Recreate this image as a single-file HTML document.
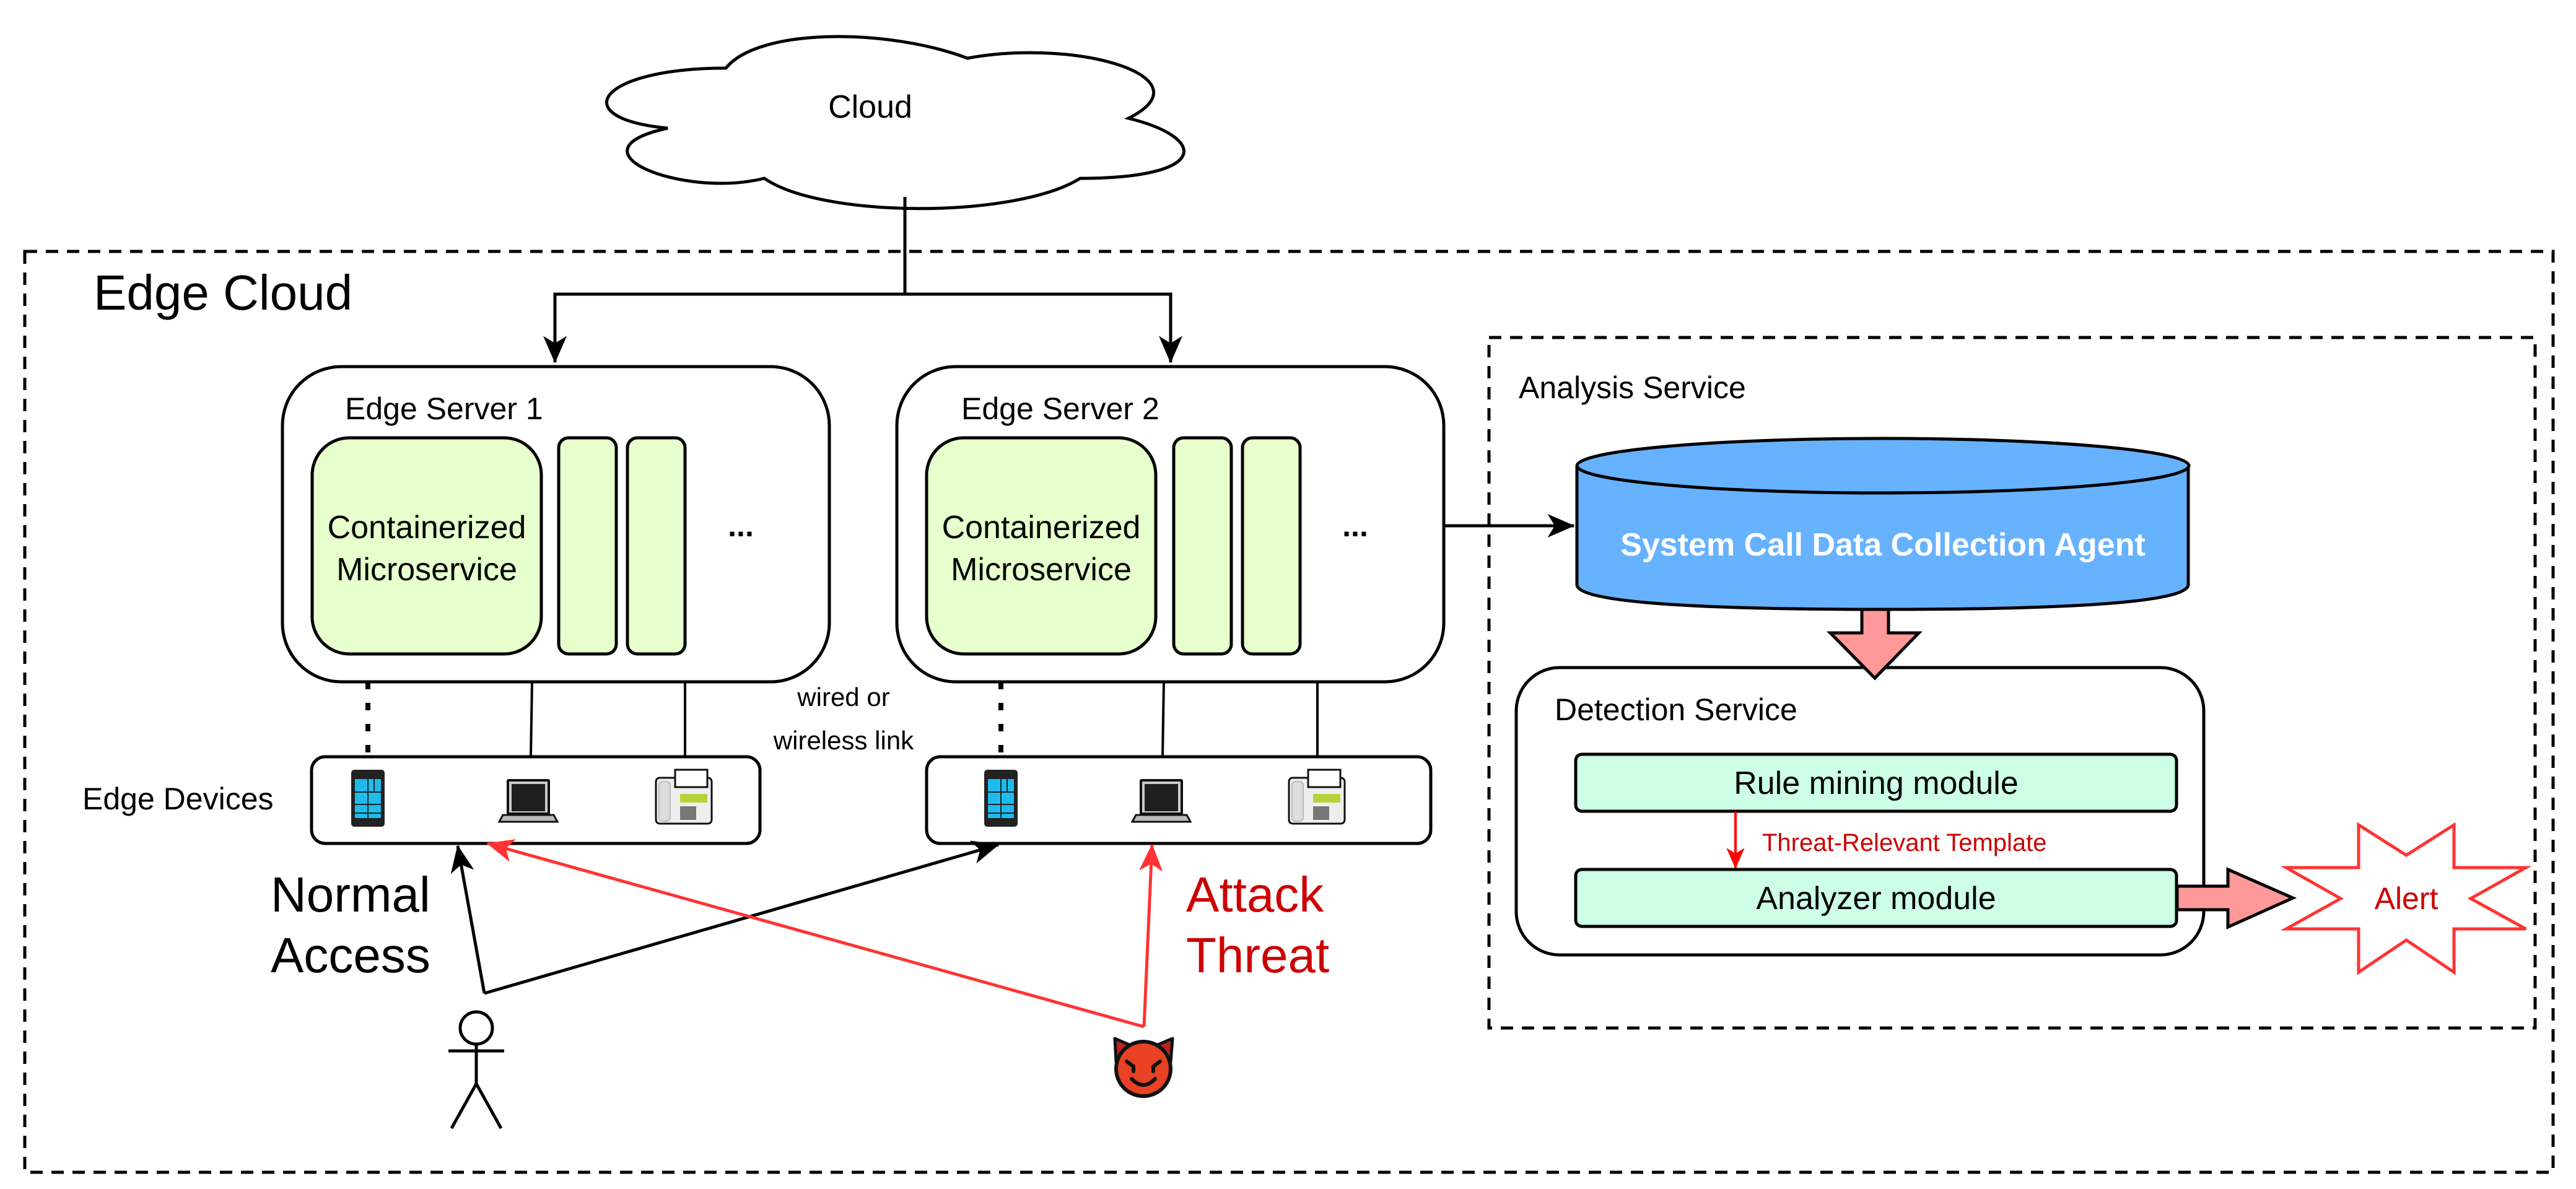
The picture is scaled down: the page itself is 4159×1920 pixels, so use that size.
<!DOCTYPE html>
<html><head><meta charset="utf-8"><style>
html,body{margin:0;padding:0;background:#fff}
svg{display:block}
text{font-family:"Liberation Sans",Arial,sans-serif}
</style></head><body>
<svg width="4159" height="1920" viewBox="0 0 4159 1920" xmlns="http://www.w3.org/2000/svg">
<defs>
<marker id="abig" viewBox="0 0 30 30" refX="29" refY="15" markerWidth="44" markerHeight="44" markerUnits="userSpaceOnUse" orient="auto"><path d="M0,2 L30,15 L0,28 L8,15Z" fill="#000"/></marker>
<marker id="ar" viewBox="0 0 30 30" refX="29" refY="15" markerWidth="44" markerHeight="44" markerUnits="userSpaceOnUse" orient="auto"><path d="M0,2 L30,15 L0,28 L8,15Z" fill="#f33"/></marker>
<marker id="ar2" viewBox="0 0 30 30" refX="29" refY="15" markerWidth="34" markerHeight="34" markerUnits="userSpaceOnUse" orient="auto"><path d="M0,2 L30,15 L0,28 L8,15Z" fill="#f00"/></marker>
</defs>

<rect x="40" y="406" width="4082" height="1487" fill="none" stroke="#000" stroke-width="5" stroke-dasharray="20 14"/>
<text x="151" y="500" font-size="80">Edge Cloud</text>

<path d="M1172,110 C964,110 912,191 1078,207 C912,243 1099,321 1234,288 C1328,353 1640,353 1744,288 C1952,288 1952,223 1822,191 C1952,126 1744,61 1562,94 C1432,45 1224,45 1172,110Z" fill="#fff" stroke="#000" stroke-width="5"/>
<text x="1405" y="190" font-size="52" text-anchor="middle">Cloud</text>

<path d="M1461,318 V475 H896 V585" fill="none" stroke="#000" stroke-width="5" marker-end="url(#abig)"/>
<path d="M1461,475 H1890 V585" fill="none" stroke="#000" stroke-width="5" marker-end="url(#abig)"/>

<rect x="456" y="592" width="883" height="509" rx="95" fill="#fff" stroke="#000" stroke-width="5"/>
<text x="557" y="677" font-size="50">Edge Server 1</text>
<rect x="504" y="707" width="370" height="349" rx="60" fill="#e6ffcc" stroke="#000" stroke-width="5"/>
<text x="689" y="869" font-size="52" text-anchor="middle">Containerized</text>
<text x="689" y="937" font-size="52" text-anchor="middle">Microservice</text>
<rect x="902" y="707" width="93" height="349" rx="16" fill="#e6ffcc" stroke="#000" stroke-width="5"/>
<rect x="1013" y="707" width="93" height="349" rx="16" fill="#e6ffcc" stroke="#000" stroke-width="5"/>
<text x="1196" y="866" font-size="50" font-weight="bold" text-anchor="middle">...</text>

<rect x="1448" y="592" width="883" height="509" rx="95" fill="#fff" stroke="#000" stroke-width="5"/>
<text x="1552" y="677" font-size="50">Edge Server 2</text>
<rect x="1496" y="707" width="370" height="349" rx="60" fill="#e6ffcc" stroke="#000" stroke-width="5"/>
<text x="1681" y="869" font-size="52" text-anchor="middle">Containerized</text>
<text x="1681" y="937" font-size="52" text-anchor="middle">Microservice</text>
<rect x="1895" y="707" width="93" height="349" rx="16" fill="#e6ffcc" stroke="#000" stroke-width="5"/>
<rect x="2006" y="707" width="93" height="349" rx="16" fill="#e6ffcc" stroke="#000" stroke-width="5"/>
<text x="2188" y="866" font-size="50" font-weight="bold" text-anchor="middle">...</text>

<line x1="2331" y1="849" x2="2541" y2="849" stroke="#000" stroke-width="5" marker-end="url(#abig)"/>

<line x1="594" y1="1101" x2="594" y2="1222" stroke="#000" stroke-width="8" stroke-dasharray="12 22"/>
<line x1="859" y1="1101" x2="857" y2="1222" stroke="#000" stroke-width="4"/>
<line x1="1106" y1="1101" x2="1106" y2="1222" stroke="#000" stroke-width="4"/>
<line x1="1616" y1="1101" x2="1616" y2="1222" stroke="#000" stroke-width="8" stroke-dasharray="12 22"/>
<line x1="1879" y1="1101" x2="1877" y2="1222" stroke="#000" stroke-width="4"/>
<line x1="2127" y1="1101" x2="2127" y2="1222" stroke="#000" stroke-width="4"/>
<text x="1362" y="1140" font-size="42" text-anchor="middle">wired or</text>
<text x="1362" y="1210" font-size="42" text-anchor="middle">wireless link</text>

<text x="133" y="1307" font-size="50">Edge Devices</text>
<rect x="503" y="1222" width="724" height="140" rx="22" fill="#fff" stroke="#000" stroke-width="5"/>
<rect x="1496" y="1222" width="814" height="140" rx="22" fill="#fff" stroke="#000" stroke-width="5"/>

<g id="dev1">
<rect x="567" y="1243" width="54" height="92" rx="5" fill="#222"/>
<rect x="573" y="1258" width="42" height="63" fill="#1ebbee"/>
<path d="M573,1279 H615 M573,1299 H615 M594,1258 V1321 M604,1258 V1279 M573,1313 H615" stroke="#222" stroke-width="2"/>
<rect x="818" y="1258" width="70" height="58" rx="3" fill="#111"/>
<rect x="822" y="1262" width="62" height="50" fill="#ccc"/>
<rect x="826" y="1266" width="54" height="44" fill="#1e1e1e"/>
<path d="M812,1316 H894 L900,1327 H806Z" fill="#bbb" stroke="#111" stroke-width="3"/>
<rect x="1059" y="1256" width="90" height="74" rx="6" fill="#eee" stroke="#111" stroke-width="3"/>
<rect x="1064" y="1262" width="18" height="64" rx="6" fill="#ddd" stroke="#bbb" stroke-width="2"/>
<rect x="1090" y="1243" width="52" height="28" fill="#fff" stroke="#111" stroke-width="3"/>
<rect x="1098" y="1282" width="44" height="14" fill="#b6d43a"/>
<rect x="1098" y="1302" width="26" height="22" fill="#777"/>
</g>
<use href="#dev1" transform="translate(1022,0)"/>

<polyline points="782,1604 739,1366" fill="none" stroke="#000" stroke-width="5" marker-end="url(#abig)"/>
<line x1="782" y1="1604" x2="1612" y2="1364" stroke="#000" stroke-width="5" marker-end="url(#abig)"/>
<line x1="1847" y1="1658" x2="1860" y2="1364" stroke="#f33" stroke-width="5" marker-end="url(#ar)"/>
<line x1="1847" y1="1658" x2="787" y2="1362" stroke="#f33" stroke-width="5" marker-end="url(#ar)"/>

<text x="437" y="1472" font-size="80">Normal</text>
<text x="437" y="1570" font-size="80">Access</text>
<text x="1915" y="1472" font-size="80" fill="#c00">Attack</text>
<text x="1915" y="1570" font-size="80" fill="#c00">Threat</text>

<g stroke="#000" stroke-width="5" fill="#fff">
<circle cx="769" cy="1660" r="26"/>
<path d="M769,1686 V1750 M724,1697 H814 M769,1750 L729,1822 M769,1750 L809,1822" fill="none"/>
</g>

<g>
<path d="M1800,1677 L1830,1690 L1862,1690 L1893,1677 L1890,1715 L1802,1715Z" fill="#b22" stroke="#111" stroke-width="5" stroke-linejoin="round"/>
<circle cx="1846" cy="1726" r="44" fill="#e84124" stroke="#111" stroke-width="6"/>
<path d="M1819,1714 L1830,1722 V1730 M1873,1714 L1862,1722 V1730" fill="none" stroke="#111" stroke-width="6" stroke-linecap="round"/>
<path d="M1827,1742 Q1846,1762 1865,1742" fill="none" stroke="#111" stroke-width="6" stroke-linecap="round"/>
</g>

<rect x="2404" y="545" width="1689" height="1115" fill="none" stroke="#000" stroke-width="5" stroke-dasharray="20 14"/>
<text x="2452" y="643" font-size="50">Analysis Service</text>

<path d="M2546,752 V944 Q2546,984 3040,984 Q3533,984 3533,944 V752" fill="#66b2ff" stroke="#000" stroke-width="5"/>
<ellipse cx="3040" cy="752" rx="494" ry="44" fill="#66b2ff" stroke="#000" stroke-width="5"/>
<text x="3040" y="897" font-size="52" font-weight="bold" fill="#fff" text-anchor="middle">System Call Data Collection Agent</text>

<rect x="2448" y="1078" width="1110" height="464" rx="70" fill="#fff" stroke="#000" stroke-width="5"/>
<path d="M3006,984 H3049 V1022 H3098 L3027,1095 L2955,1022 H3006Z" fill="#f99" stroke="#000" stroke-width="5"/>
<text x="2510" y="1163" font-size="50">Detection Service</text>
<rect x="2544" y="1218" width="970" height="92" rx="10" fill="#ccffe6" stroke="#000" stroke-width="5"/>
<text x="3029" y="1282" font-size="52" text-anchor="middle">Rule mining module</text>
<line x1="2802" y1="1311" x2="2802" y2="1402" stroke="#f00" stroke-width="4" marker-end="url(#ar2)"/>
<text x="2845" y="1374" font-size="40" fill="#c00">Threat-Relevant Template</text>
<rect x="2544" y="1404" width="970" height="92" rx="10" fill="#ccffe6" stroke="#000" stroke-width="5"/>
<text x="3029" y="1468" font-size="52" text-anchor="middle">Analyzer module</text>

<path d="M3515,1431 H3597 V1404 L3702,1450 L3597,1497 V1469 H3515Z" fill="#f99" stroke="#000" stroke-width="5"/>

<polygon points="3808,1332 3885,1381 3962,1332 3962,1401 4078,1401 3989,1451 4078,1500 3962,1500 3962,1570 3885,1518 3808,1570 3808,1500 3691,1500 3779,1451 3691,1401 3808,1401" fill="#fff" stroke="#f33" stroke-width="5"/>
<text x="3885" y="1468" font-size="50" fill="#c00" text-anchor="middle">Alert</text>
</svg>
</body></html>
